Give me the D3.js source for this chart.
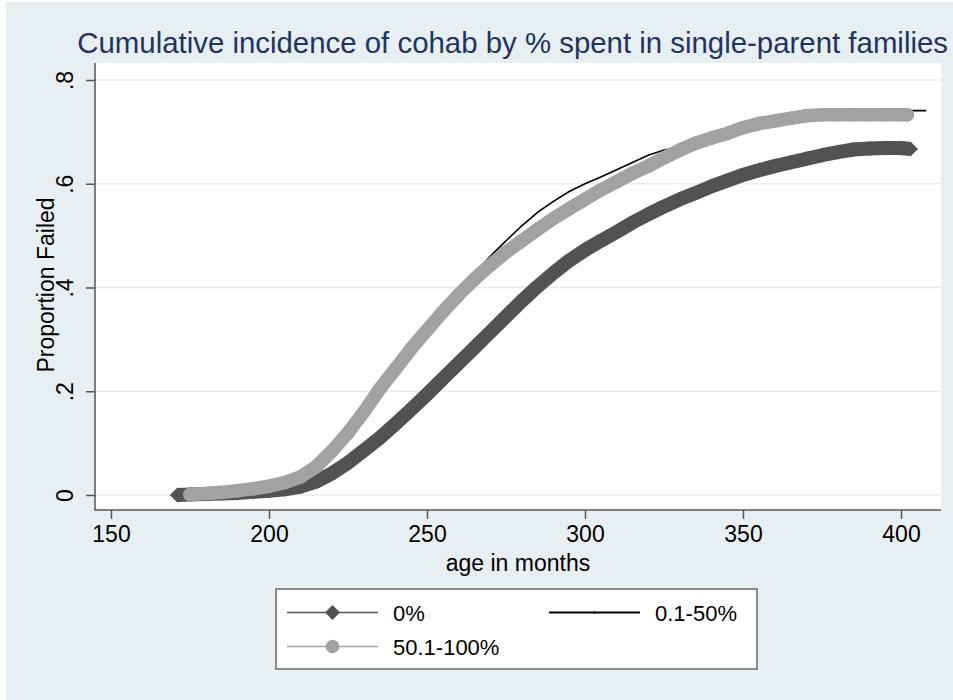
<!DOCTYPE html>
<html>
<head>
<meta charset="utf-8">
<script src="https://cdn.jsdelivr.net/npm/d3@7"></script>
<style>
  html, body { margin: 0; padding: 0; background: #ffffff; }
  svg { display: block; font-family: "Liberation Sans", Arial, Helvetica, sans-serif; }
</style>
</head>
<body>
<svg id="chart" width="953" height="700"></svg>
<script>
// ---- data -------------------------------------------------------------
const chartTitle = "Cumulative incidence of cohab by % spent in single-parent families";
const xTitle = "age in months";
const yTitle = "Proportion Failed";
const xTickValues = [150, 200, 250, 300, 350, 400];
const yTickValues = [0, 0.2, 0.4, 0.6, 0.8];
const yTickLabels = ["0", ".2", ".4", ".6", ".8"];
const seriesNames = ["0%", "0.1-50%", "50.1-100%"];

// 0% of childhood in a single-parent family
const monthsNone = [171, 175, 180, 185, 190, 195, 200, 205, 210, 215, 220, 225, 230, 235, 240, 245,
  250, 255, 260, 265, 270, 275, 280, 285, 290, 295, 300, 305, 310, 315, 320, 325, 330, 335, 340,
  345, 350, 355, 360, 365, 370, 375, 380, 385, 390, 395, 400, 403];
const failedNone = [0, 0.001, 0.002, 0.003, 0.004, 0.006, 0.008, 0.011, 0.016, 0.026, 0.042, 0.062,
  0.086, 0.11, 0.137, 0.165, 0.194, 0.224, 0.254, 0.284, 0.314, 0.344, 0.374, 0.402, 0.428, 0.452,
  0.472, 0.49, 0.507, 0.525, 0.541, 0.556, 0.57, 0.582, 0.595, 0.606, 0.617, 0.626, 0.634, 0.641,
  0.648, 0.655, 0.661, 0.666, 0.668, 0.669, 0.669, 0.667];

// 0.1-50%
const monthsSome = [175, 180, 185, 190, 195, 200, 205, 210, 215, 220, 225, 230, 235, 240, 245, 250,
  255, 260, 265, 270, 275, 280, 285, 290, 295, 300, 305, 310, 315, 320, 325, 330, 335, 340, 345,
  350, 355, 360, 365, 370, 375, 380, 385, 390, 395, 400, 405, 408];
const failedSome = [0.001, 0.003, 0.005, 0.008, 0.012, 0.017, 0.024, 0.035, 0.056, 0.087, 0.123,
  0.163, 0.205, 0.245, 0.285, 0.322, 0.358, 0.393, 0.428, 0.46, 0.49, 0.519, 0.545, 0.566, 0.585,
  0.6, 0.613, 0.627, 0.641, 0.655, 0.665, 0.671, 0.68, 0.69, 0.7, 0.71, 0.717, 0.723, 0.729,
  0.734, 0.737, 0.739, 0.74, 0.741, 0.741, 0.741, 0.741, 0.741];

// 50.1-100%
const monthsMost = [175, 180, 185, 190, 195, 200, 205, 210, 215, 220, 225, 230, 235, 240, 245, 250,
  255, 260, 265, 270, 275, 280, 285, 290, 295, 300, 305, 310, 315, 320, 325, 330, 335, 340, 345,
  350, 355, 360, 365, 370, 375, 380, 385, 390, 395, 400, 402];
const failedMost = [0.001, 0.003, 0.005, 0.008, 0.012, 0.017, 0.024, 0.035, 0.055, 0.085, 0.12,
  0.16, 0.204, 0.243, 0.282, 0.318, 0.353, 0.386, 0.416, 0.443, 0.468, 0.49, 0.512, 0.533, 0.552,
  0.57, 0.588, 0.604, 0.62, 0.634, 0.65, 0.665, 0.678, 0.688, 0.697, 0.708, 0.716, 0.721, 0.726,
  0.731, 0.733, 0.733, 0.733, 0.733, 0.733, 0.733, 0.733];

// ---- styling ----------------------------------------------------------
const bgColor = "#e8eff2";
const gridColor = "#e4edf0";
const axisColor = "#555555";
const titleColor = "#1f3460";
const darkGray = "#525252";
const lightGray = "#a2a2a2";
const fontSize = 23;

const plot = { left: 95, right: 941, top: 63, bottom: 510 };

const svg = d3.select("#chart");

// outer graph region
svg.append("rect").attr("x", 6).attr("y", 2).attr("width", 947).attr("height", 698).attr("fill", bgColor);
// plot region
svg.append("rect").attr("x", plot.left).attr("y", plot.top)
  .attr("width", plot.right - plot.left).attr("height", plot.bottom - plot.top).attr("fill", "#ffffff");

const x = d3.scaleLinear().domain([150, 400]).range([111, 901]);
const y = d3.scaleLinear().domain([0, 0.8]).range([495, 80]);

// horizontal grid
svg.append("g").selectAll("line").data(yTickValues).join("line")
  .attr("x1", plot.left).attr("x2", plot.right)
  .attr("y1", d => y(d)).attr("y2", d => y(d))
  .attr("stroke", gridColor).attr("stroke-width", 1.5);

// y axis
const yAxis = svg.append("g").attr("transform", `translate(${plot.left},0)`)
  .call(d3.axisLeft(y).tickValues(yTickValues).tickSize(9).tickSizeOuter(0)
    .tickFormat((d, i) => yTickLabels[i]));
yAxis.select(".domain").remove();
yAxis.selectAll(".tick line").attr("stroke", axisColor).attr("stroke-width", 1.5);
yAxis.selectAll(".tick text")
  .attr("x", null).attr("dy", null)
  .attr("text-anchor", "middle")
  .attr("transform", "translate(-22,0) rotate(-90)")
  .attr("fill", "#000").style("font-size", fontSize + "px")
  .style("font-family", "'Liberation Sans', Arial, sans-serif");

// x axis
const xAxis = svg.append("g").attr("transform", `translate(0,${plot.bottom})`)
  .call(d3.axisBottom(x).tickValues(xTickValues).tickSize(9).tickSizeOuter(0));
xAxis.select(".domain").remove();
xAxis.selectAll(".tick line").attr("stroke", axisColor).attr("stroke-width", 1.5);
xAxis.selectAll(".tick text")
  .attr("y", 32).attr("dy", null)
  .attr("fill", "#000").style("font-size", fontSize + "px")
  .style("font-family", "'Liberation Sans', Arial, sans-serif");

// axis lines
svg.append("line").attr("x1", plot.left).attr("x2", plot.left)
  .attr("y1", plot.top).attr("y2", plot.bottom + 0.75)
  .attr("stroke", axisColor).attr("stroke-width", 1.5);
svg.append("line").attr("x1", plot.left).attr("x2", plot.right)
  .attr("y1", plot.bottom).attr("y2", plot.bottom)
  .attr("stroke", axisColor).attr("stroke-width", 1.5);

// ---- series -----------------------------------------------------------
const toPoints = (months, failed) => months.map((m, i) => ({ m, p: failed[i] }));
const line = d3.line().x(d => x(d.m)).y(d => y(d.p));

const ptsNone = toPoints(monthsNone, failedNone);
const ptsSome = toPoints(monthsSome, failedSome);
const ptsMost = toPoints(monthsMost, failedMost);

const diamond = d3.symbol().type(d3.symbolDiamond2).size(2 * 8.5 * 8.5);
const circle = d3.symbol().type(d3.symbolCircle).size(Math.PI * 6.8 * 6.8);

// 0%: dense dark diamonds
const gNone = svg.append("g");
gNone.append("path").datum(ptsNone).attr("d", line)
  .attr("fill", "none").attr("stroke", darkGray).attr("stroke-width", 14)
  .attr("stroke-linejoin", "round");
gNone.selectAll("path.m").data(ptsNone).join("path").attr("class", "m")
  .attr("transform", d => `translate(${x(d.m)},${y(d.p)})`)
  .attr("d", diamond).attr("fill", darkGray);

// 0.1-50%: thin black line
svg.append("path").datum(ptsSome).attr("d", line)
  .attr("fill", "none").attr("stroke", "#000").attr("stroke-width", 1.6)
  .attr("stroke-linejoin", "round");

// 50.1-100%: dense light-gray circles
const gMost = svg.append("g");
gMost.append("path").datum(ptsMost).attr("d", line)
  .attr("fill", "none").attr("stroke", lightGray).attr("stroke-width", 13.6)
  .attr("stroke-linejoin", "round").attr("stroke-linecap", "round");
gMost.selectAll("path.m").data(ptsMost).join("path").attr("class", "m")
  .attr("transform", d => `translate(${x(d.m)},${y(d.p)})`)
  .attr("d", circle).attr("fill", lightGray);

// ---- titles -----------------------------------------------------------
svg.append("text").attr("x", 948).attr("y", 53).attr("text-anchor", "end")
  .attr("fill", titleColor).style("font-size", "29.4px").text(chartTitle);

svg.append("text").attr("x", 518).attr("y", 571).attr("text-anchor", "middle")
  .attr("fill", "#000").style("font-size", fontSize + "px").text(xTitle);

svg.append("text").attr("transform", "translate(54,285) rotate(-90)").attr("text-anchor", "middle")
  .attr("fill", "#000").style("font-size", fontSize + "px").text(yTitle);

// ---- legend -----------------------------------------------------------
const legend = svg.append("g");
legend.append("rect").attr("x", 276).attr("y", 589).attr("width", 481).attr("height", 80)
  .attr("fill", "#ffffff").attr("stroke", "#666666").attr("stroke-width", 1.5);

const legendItems = [
  { name: seriesNames[0], col: 0, row: 0, color: darkGray, width: 1.6, marker: diamond, mColor: darkGray },
  { name: seriesNames[1], col: 1, row: 0, color: "#000", width: 1.8, marker: null },
  { name: seriesNames[2], col: 0, row: 1, color: "#a8a8a8", width: 1.6, marker: circle, mColor: lightGray }
];
const colX = [287, 549];
const rowY = [612.5, 646.5];
legendItems.forEach(it => {
  const x0 = colX[it.col], yy = rowY[it.row];
  legend.append("line").attr("x1", x0).attr("x2", x0 + 91).attr("y1", yy).attr("y2", yy)
    .attr("stroke", it.color).attr("stroke-width", it.width);
  if (it.marker) {
    legend.append("path").attr("transform", `translate(${x0 + 45.5},${yy})`)
      .attr("d", it.marker).attr("fill", it.mColor);
  } else {
    legend.append("circle").attr("cx", x0 + 45.5).attr("cy", yy).attr("r", 1.3).attr("fill", "#000");
  }
  legend.append("text").attr("x", x0 + 106).attr("y", yy + 8.5)
    .attr("fill", "#000").style("font-size", "22px").text(it.name);
});
</script>
</body>
</html>
